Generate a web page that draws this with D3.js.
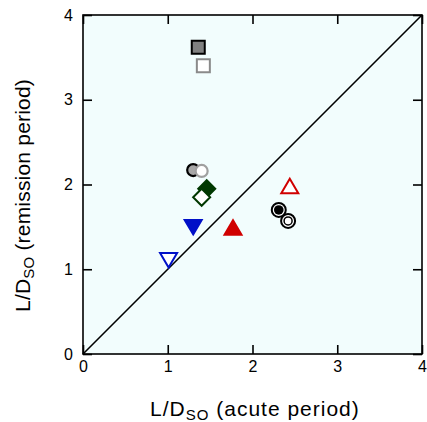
<!DOCTYPE html>
<html>
<head>
<meta charset="utf-8">
<script src="https://cdn.jsdelivr.net/npm/d3@7"></script>
<style>
  body { margin: 0; background: #fff; }
  text { font-family: "Liberation Sans", Arial, sans-serif; fill: #000; }
</style>
</head>
<body>
<svg id="chart" width="427" height="422"></svg>
<script>
// values
const acute     = [1.36, 1.42, 1.30, 1.40, 1.46, 1.40, 1.30, 1.01, 1.77, 2.44, 2.31, 2.42]
const remission = [3.62, 3.40, 2.17, 2.16, 1.95, 1.85, 1.50, 1.11, 1.49, 1.98, 1.70, 1.57]
const shapes    = ["square", "square", "circle", "circle", "diamond", "diamond", "down", "down", "up", "up", "dot", "ring"]
const fills     = ["#808080", "#fff", "#a8a8a8", "#fff", "#003800", "#fff", "#0010c8", "#fff", "#d00000", "#fff", "#000", "#fff"]
const strokes   = ["#000", "#8a8a8a", "#000", "#a0a0a0", "#003800", "#003800", "#0010c8", "#0010c8", "#d00000", "#d00000", "#000", "#000"]
const ticks     = [0, 1, 2, 3, 4]

const m = {top: 15, right: 5, bottom: 68, left: 83}
const w = 339, h = 339

const x = d3.scaleLinear().domain([0, 4]).range([0, w])
const y = d3.scaleLinear().domain([0, 4]).range([h, 0])

const svg = d3.select("#chart")
const g = svg.append("g").attr("transform", "translate(" + m.left + "," + m.top + ")")

// plot background
g.append("rect").attr("width", w).attr("height", h).attr("fill", "#f2fdfd")

// identity line
g.append("line")
  .attr("x1", x(0)).attr("y1", y(0)).attr("x2", x(4)).attr("y2", y(4))
  .attr("stroke", "#000").attr("stroke-width", 1.6)

// axes, ticks pointing inward on all four sides
const tl = 9
const fmt = d3.format("d")
g.append("g").attr("transform", "translate(0," + h + ")")
  .call(d3.axisBottom(x).tickValues(ticks).tickFormat(fmt).tickSizeInner(-tl).tickSizeOuter(0).tickPadding(7))
g.append("g")
  .call(d3.axisLeft(y).tickValues(ticks).tickFormat(fmt).tickSizeInner(-tl).tickSizeOuter(0).tickPadding(10))
g.append("g")
  .call(d3.axisTop(x).tickValues(ticks).tickSizeInner(-tl).tickSizeOuter(0).tickFormat(""))
g.append("g").attr("transform", "translate(" + w + ",0)")
  .call(d3.axisRight(y).tickValues(ticks).tickSizeInner(-tl).tickSizeOuter(0).tickFormat(""))

g.selectAll(".domain").remove()
g.selectAll(".tick line").attr("stroke", "#000").attr("stroke-width", 1.6)
g.selectAll(".tick text").attr("font-size", 16).style("font-size", "16px")
  .style("font-family", "'Liberation Sans', Arial, sans-serif")

// frame
g.append("rect").attr("width", w).attr("height", h)
  .attr("fill", "none").attr("stroke", "#000").attr("stroke-width", 1.6)

// markers
function markerPath(shape) {
  const s = 6.5
  switch (shape) {
    case "square": return "M" + (-s) + "," + (-s) + "h" + (2 * s) + "v" + (2 * s) + "h" + (-2 * s) + "Z"
    case "diamond": return "M0,-8.5L8.5,0L0,8.5L-8.5,0Z"
    case "up": return "M0,-7.5L8.5,7L-8.5,7Z"
    case "down": return "M0,7.5L8.5,-7L-8.5,-7Z"
  }
  return null
}

const pts = g.selectAll(".pt").data(acute).enter().append("g")
  .attr("class", "pt")
  .attr("transform", (d, i) => "translate(" + x(d) + "," + y(remission[i]) + ")")

pts.each(function (d, i) {
  const el = d3.select(this)
  const sh = shapes[i]
  if (sh === "circle") {
    el.append("circle").attr("r", 6).attr("fill", fills[i])
      .attr("stroke", strokes[i]).attr("stroke-width", 2.2)
  } else if (sh === "dot" || sh === "ring") {
    el.append("circle").attr("r", 7).attr("fill", "#fff")
      .attr("stroke", "#000").attr("stroke-width", 2)
    el.append("circle").attr("r", sh === "dot" ? 4.8 : 4).attr("fill", sh === "dot" ? "#000" : "#fff")
      .attr("stroke", "#000").attr("stroke-width", sh === "dot" ? 0 : 1.5)
  } else {
    el.append("path").attr("d", markerPath(sh)).attr("fill", fills[i])
      .attr("stroke", strokes[i]).attr("stroke-width", 2)
      .attr("stroke-linejoin", "miter")
  }
})

// axis labels
const xl = svg.append("text")
  .attr("x", 150).attr("y", 416)
  .style("font-size", "21px").style("letter-spacing", "1px")
xl.append("tspan").text("L/D")
xl.append("tspan").text("SO").style("font-size", "15px").attr("dy", 4)
xl.append("tspan").text(" (acute period)").attr("dy", -4)

const yl = svg.append("text")
  .attr("transform", "translate(30,312) rotate(-90)")
  .style("font-size", "21px").style("letter-spacing", "0.2px")
yl.append("tspan").text("L/D")
yl.append("tspan").text("SO").style("font-size", "15px").attr("dy", 4)
yl.append("tspan").text(" (remission period)").attr("dy", -4)
</script>
</body>
</html>
